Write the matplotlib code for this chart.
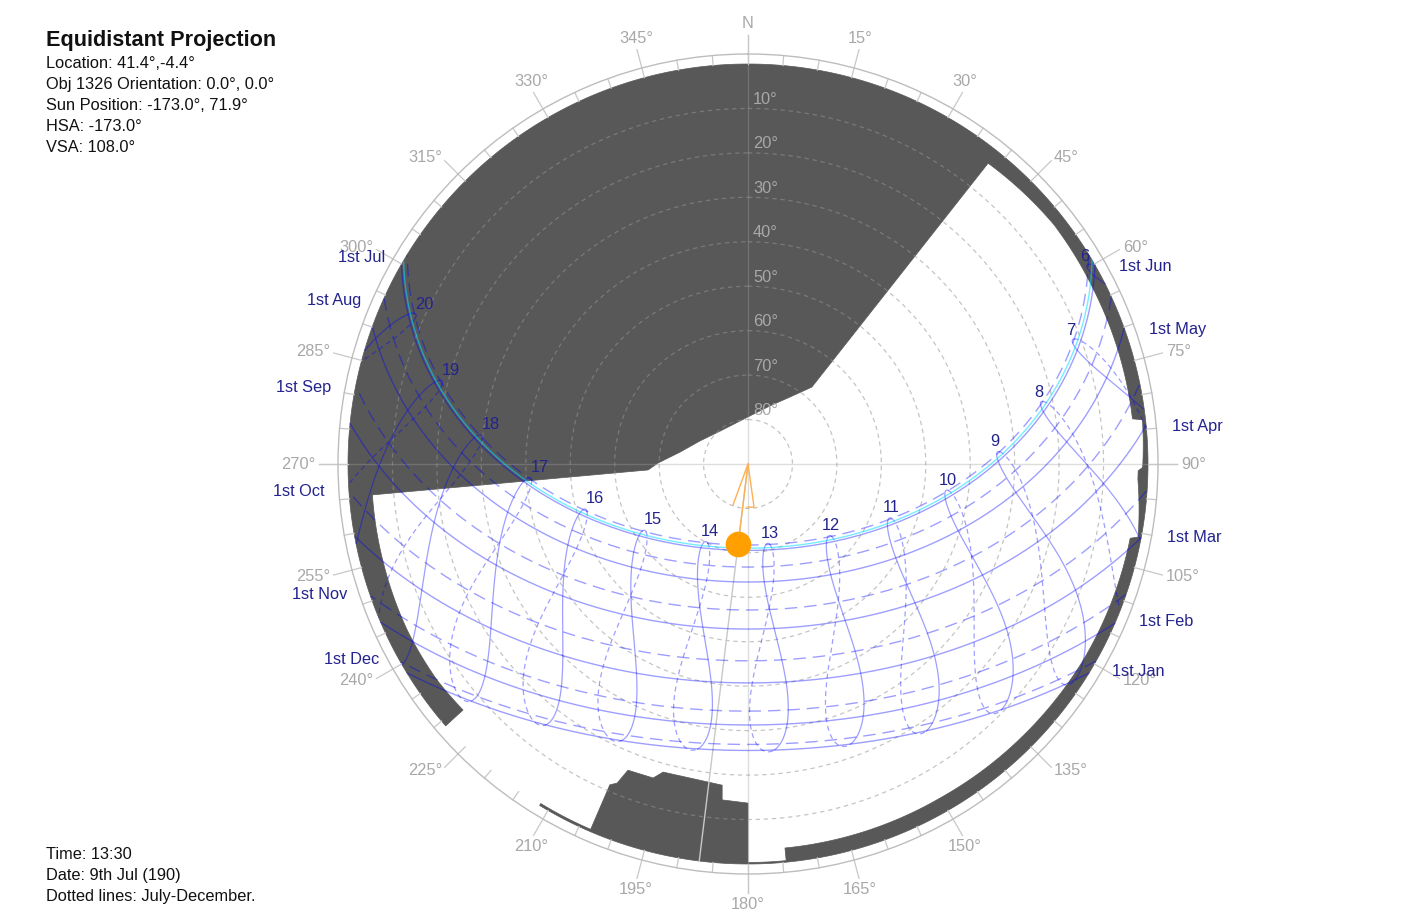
import numpy as np
import matplotlib
matplotlib.use("Agg")
import matplotlib.pyplot as plt
from matplotlib.path import Path
from matplotlib.patches import PathPatch

plt.rcParams['font.family'] = ['Liberation Sans', 'DejaVu Sans']

# ---------------- data ----------------
LATITUDE = 41.4
LONGITUDE = -4.4
TIMEZONE = 1.0
month_names = ['Jan', 'Feb', 'Mar', 'Apr', 'May', 'Jun',
               'Jul', 'Aug', 'Sep', 'Oct', 'Nov', 'Dec']
month_first_doy = [1, 32, 60, 91, 121, 152, 182, 213, 244, 274, 305, 335]
hour_lines = [6, 7, 8, 9, 10, 11, 12, 13, 14, 15, 16, 17, 18, 19, 20]
hour_label_doy = 172
current_doy = 190
sun_az, sun_alt = 187.0, 71.9
altitude_rings = [10, 20, 30, 40, 50, 60, 70, 80]
compass_labels = ['N', '15°', '30°', '45°', '60°', '75°', '90°', '105°', '120°',
                  '135°', '150°', '165°', '180°', '195°', '210°', '225°', '240°',
                  '255°', '270°', '285°', '300°', '315°', '330°', '345°']

# obstruction mask outlines (azimuth deg, unwrapped ; altitude deg)
shade_main_az = [229.1, 540.0, 540.0, 534.5, 534.5, 510.0, 495.0, 480.0, 461.0,
                 460.6, 452.3, 451.0, 450.5, 443.6, 443.3, 440.5, 423.0, 412.0,
                 398.6, 399.7, 392.1, 380.8, 360.0, 319.7, 295.6, 280.0, 270.6,
                 266.6, 265.3, 254.8, 244.0, 235.2, 229.2]
shade_main_alt = [0.0, 0.0, 0.35, 0.35, 3.2, 3.3, 3.0, 2.6, 2.4,
                  0.7, 2.2, 2.2, 1.2, 0.7, 2.9, 2.9, 2.9, 2.6,
                  3.4, 67.5, 72.2, 76.0, 79.4, 80.3, 78.0, 74.5, 69.75,
                  67.5, 5.2, 5.0, 4.7, 4.8, 5.3]
shade_block_az = [180.0, 180.0, 184.4, 184.6, 195.4, 196.8, 201.4, 202.3, 203.3,
                  203.3, 211.4, 211.4, 180.0]
shade_block_alt = [0.0, 13.7, 14.2, 17.5, 18.1, 16.2, 16.0, 12.4, 11.4,
                   0.5, 0.5, 0.0, 0.0]

# orientation marker near the centre (azimuth, zenith distance)
marker_az = [200.1, 0.0, 172.0, 181.3]
marker_r = [9.8, 0.0, 9.8, 9.7]

title = 'Equidistant Projection'
info_lines = ['Location: 41.4°,-4.4°', 'Obj 1326 Orientation: 0.0°, 0.0°',
              'Sun Position: -173.0°, 71.9°', 'HSA: -173.0°', 'VSA: 108.0°']
foot_lines = ['Time: 13:30', 'Date: 9th Jul (190)', 'Dotted lines: July-December.']


# ---------------- solar geometry ----------------
def sun_position(doy, clock_h):
    doy = np.asarray(doy, float)
    clock_h = np.asarray(clock_h, float)
    g = 2 * np.pi / 365.0 * (doy - 1 + (clock_h - 12) / 24.0)
    eqt = 229.18 * (0.000075 + 0.001868 * np.cos(g) - 0.032077 * np.sin(g)
                    - 0.014615 * np.cos(2 * g) - 0.040849 * np.sin(2 * g))
    decl = (0.006918 - 0.399912 * np.cos(g) + 0.070257 * np.sin(g)
            - 0.006758 * np.cos(2 * g) + 0.000907 * np.sin(2 * g)
            - 0.002697 * np.cos(3 * g) + 0.00148 * np.sin(3 * g))
    tst = clock_h * 60 + eqt + 4 * LONGITUDE - 60 * TIMEZONE
    ha = np.deg2rad(tst / 4.0 - 180.0)
    lat = np.deg2rad(LATITUDE)
    sin_alt = np.sin(lat) * np.sin(decl) + np.cos(lat) * np.cos(decl) * np.cos(ha)
    alt = np.rad2deg(np.arcsin(sin_alt))
    az = np.rad2deg(np.arctan2(np.sin(ha), np.cos(ha) * np.sin(lat) - np.tan(decl) * np.cos(lat))) + 180.0
    return az, alt


def to_polar(az, alt):
    az = np.asarray(az, float)
    alt = np.asarray(alt, float)
    r = 90.0 - alt
    r = np.where(alt < 0, np.nan, r)
    return np.deg2rad(az), r


def outline(azs, alts):
    """Follow the horizon-hugging edges along the circle; keep other edges straight."""
    pts = []
    n = len(azs)
    for i in range(n - 1):
        a0, h0, a1, h1 = azs[i], alts[i], azs[i + 1], alts[i + 1]
        if abs(a1 - a0) > 1.5 and max(h0, h1) < 10:
            k = int(abs(a1 - a0) * 2) + 2
            for a, h in zip(np.linspace(a0, a1, k)[:-1], np.linspace(h0, h1, k)[:-1]):
                pts.append((a, h))
        else:
            pts.append((a0, h0))
    pts.append((azs[-1], alts[-1]))
    pts.append(pts[0])
    pts = np.array(pts)
    return np.column_stack([np.deg2rad(pts[:, 0]), 90.0 - pts[:, 1]])


# ---------------- figure ----------------
W, H = 1407, 921
fig = plt.figure(figsize=(W / 100, H / 100), dpi=100)
R_OUT = 92.25
ax = fig.add_axes([338 / W, 47 / H, 820 / W, 820 / H], projection='polar')
ax.set_theta_zero_location('N')
ax.set_theta_direction(-1)
ax.set_ylim(0, R_OUT)
ax.set_xticks([])
ax.set_yticks([])
ax.grid(False)
ax.spines['polar'].set_edgecolor('#bdbdbd')
ax.spines['polar'].set_linewidth(1.0)

shade_color = '#585858'
for azs, alts in [(shade_main_az, shade_main_alt), (shade_block_az, shade_block_alt)]:
    p = Path(outline(azs, alts), closed=True)
    ax.add_patch(PathPatch(p, facecolor=shade_color, edgecolor=shade_color,
                           linewidth=0.5, zorder=1))

# altitude rings
full = np.linspace(0, 2 * np.pi, 721)
for a in altitude_rings:
    ax.plot(full, np.full_like(full, 90 - a), color='#959595', alpha=0.55,
            lw=0.9, ls=(0, (3.5, 3.0)), zorder=2)
    ax.annotate(f'{a}°', xy=(0, 90 - a), xytext=(3.6, 1.0), textcoords='offset points',
                ha='left', va='bottom', fontsize=11.8, color='#a8a8a8', zorder=2.5)

# crosshair
for ang in [0, 90, 180, 270]:
    ax.plot([np.deg2rad(ang)] * 2, [0, 96.5], color='#a0a0a0', alpha=0.35,
            lw=1.0, zorder=2, clip_on=False)

# compass ticks
for ang in range(0, 360, 5):
    top = 96.5 if ang % 15 == 0 else R_OUT
    ax.plot([np.deg2rad(ang)] * 2, [90, top], color='#c8c8c8', lw=0.9,
            zorder=2, clip_on=False)

for i, lab in enumerate(compass_labels):
    ang = i * 15
    s, c = np.sin(np.deg2rad(ang)), np.cos(np.deg2rad(ang))
    if abs(s) >= 0.7:
        ha = 'left' if s > 0 else 'right'
        va = 'center'
    else:
        ha = 'center'
        va = 'bottom' if c > 0 else 'top'
    ax.text(np.deg2rad(ang), 97.4, lab, ha=ha, va=va, fontsize=11.8,
            color='#a8a8a8', clip_on=False)

# sun paths: 1st of each month
blue = '#0000ff'
navy = '#23238e'
tday = np.arange(0, 24 * 60 + 1) / 60.0
for i, d in enumerate(month_first_doy):
    az, alt = sun_position(np.full_like(tday, d), tday)
    th, r = to_polar(az, alt)
    ls = '-' if i < 6 else (0, (9, 5))
    ax.plot(th, r, color=blue, alpha=0.38, lw=1.0, ls=ls, zorder=3)
    up = np.where(alt >= 0)[0]
    k = up[0] if i < 6 else up[-1]
    c = np.cos(np.deg2rad(az[k]))
    if i < 6:
        ax.annotate(f'1st {month_names[i]}', xy=(np.deg2rad(az[k]), 94.8),
                    xytext=(5 * 0.72, -25 * c * 0.72), textcoords='offset points',
                    ha='left', va='center', fontsize=11.8, color=navy,
                    annotation_clip=False, zorder=6)
    else:
        ax.annotate(f'1st {month_names[i]}', xy=(np.deg2rad(az[k]), 94.6),
                    xytext=(-4 * 0.72, -25 * c * 0.72), textcoords='offset points',
                    ha='right', va='center', fontsize=11.8, color=navy,
                    annotation_clip=False, zorder=6)

# current day path
az, alt = sun_position(np.full_like(tday, current_doy), tday)
th, r = to_polar(az, alt)
ax.plot(th, r, color='#00e0ff', alpha=0.55, lw=1.0, zorder=3.5)

# hour analemmas
days = np.arange(1, 366)
for h in hour_lines:
    az, alt = sun_position(days, np.full_like(days, h, dtype=float))
    th, r = to_polar(az, alt)
    ax.plot(th[:181], r[:181], color=blue, alpha=0.38, lw=0.9, zorder=3)
    th2 = np.concatenate([th[180:], th[:1]])
    r2 = np.concatenate([r[180:], r[:1]])
    ax.plot(th2, r2, color=blue, alpha=0.38, lw=0.9, ls=(0, (4, 3)), zorder=3)
    laz, lalt = sun_position(hour_label_doy, h)
    s = np.sin(np.deg2rad(laz))
    if s < 0:
        dx_px = -9.5 * s
    elif h <= 9:
        dx_px = -2.0
    else:
        dx_px = 2.0
    ax.annotate(str(h), xy=(np.deg2rad(laz), 90 - lalt), xytext=(dx_px * 0.72, 2.0),
                textcoords='offset points', ha='center', va='bottom',
                fontsize=11.8, color=navy, zorder=6, annotation_clip=False)

# sun ray and sun
ax.plot([np.deg2rad(sun_az)] * 2, [0, 90], color='#c8c8c8', lw=1.0, zorder=2.6)
ax.plot([np.deg2rad(sun_az), 0], [90 - sun_alt, 0], color='#ffb050', lw=1.0, zorder=4)
ax.plot(np.deg2rad(marker_az), marker_r, color='#ffb050', lw=1.0, zorder=4)
ax.plot([np.deg2rad(sun_az)], [90 - sun_alt], 'o', ms=18.5, color='#ffa000',
        mec='none', zorder=7)

# texts
fig.text(46 / W, 1 - 46 / H, title, fontsize=15.6, fontweight='bold',
         color='#111111', ha='left', va='baseline')
for i, line in enumerate(info_lines):
    fig.text(46 / W, 1 - (68 + 21 * i) / H, line, fontsize=11.8, color='#111111',
             ha='left', va='baseline')
for i, line in enumerate(foot_lines):
    fig.text(46 / W, 1 - (859 + 21 * i) / H, line, fontsize=11.8, color='#111111',
             ha='left', va='baseline')

fig.savefig('out.png', dpi=100, facecolor='white')
